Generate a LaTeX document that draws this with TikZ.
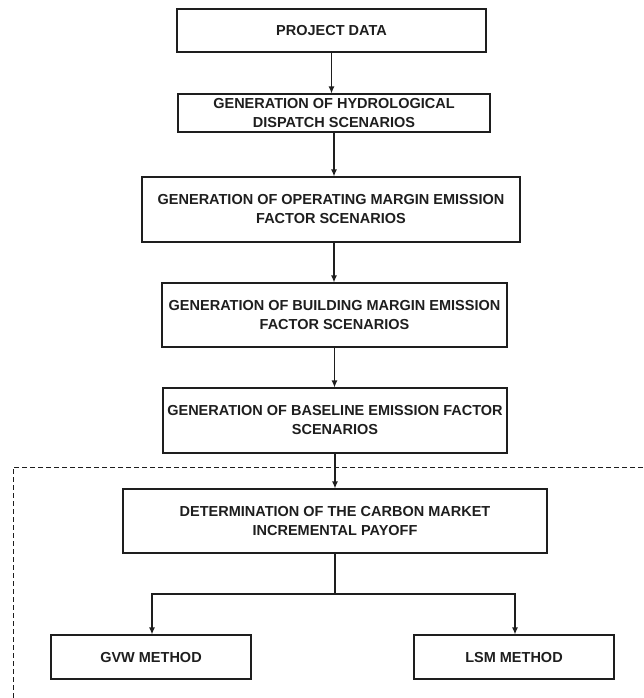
\documentclass[tikz,border=0pt]{standalone}
\usepackage{fontspec}
\setmainfont{Liberation Sans}
\usepackage{xcolor}
\usetikzlibrary{arrows.meta}
\usetikzlibrary{math}
\definecolor{linegray}{RGB}{30,30,30}

\begin{document}
\begin{tikzpicture}[x=1pt,y=-1pt,
  blk/.style={draw=linegray, line width=1.1pt, align=center, inner sep=0pt,
    font=\fontsize{14.5}{19}\selectfont\bfseries, text=linegray},
  conn/.style={draw=linegray, line width=1.3pt},
  tip/.style={-{Latex[length=7pt,width=6pt]}},
  frame/.style={draw=linegray, line width=0.9pt, dash pattern=on 5pt off 3pt}]
\tikzmath{
\xc=334;
\hb=64;
}
\useasboundingbox (0,0) rectangle (643,698);

\node[blk, minimum width=309, minimum height=43] (data) at (331.5,30.5) {PROJECT DATA};
\node[blk, minimum width=312, minimum height=38] (hydro) at (\xc,113) {GENERATION OF HYDROLOGICAL\\DISPATCH SCENARIOS};
\node[blk, minimum width=378, minimum height=\hb+1] (opm) at (331,209.5) {GENERATION OF OPERATING MARGIN EMISSION\\FACTOR SCENARIOS};
\node[blk, minimum width=345, minimum height=\hb] (bm) at (334.5,315) {GENERATION OF BUILDING MARGIN EMISSION\\FACTOR SCENARIOS};
\node[blk, minimum width=344, minimum height=\hb+1] (base) at (335,420.5) {GENERATION OF BASELINE EMISSION FACTOR\\SCENARIOS};
\node[blk, minimum width=424, minimum height=\hb] (payoff) at (335,521) {DETERMINATION OF THE CARBON MARKET\\INCREMENTAL PAYOFF};
\node[blk, minimum width=200, minimum height=44] (gvw) at (151,657) {GVW METHOD};
\node[blk, minimum width=200, minimum height=44] (lsm) at (514,657) {LSM METHOD};

% dashed frame, cut off at the right and bottom
\coordinate (ftr) at (643,467);
\coordinate (ftl) at (13,467);
\coordinate (fbl) at (13,698);
\draw[frame] (ftr) -- (ftl) -- (fbl);

\draw[conn,tip] (data.south) -- (data.south |- hydro.north);
\draw[conn,tip] (hydro.south) -- (hydro.south |- opm.north);
\draw[conn,tip] (opm.south) ++(3,0) coordinate (o) -- (o |- bm.north);
\draw[conn,tip] (bm.south) -- (bm.south |- base.north);
\draw[conn,tip] (base.south) -- (base.south |- payoff.north);

\coordinate (split) at (335,594);
\draw[conn] (payoff.south) -- (split);
\draw[conn,tip] (split) -| ([xshift=1pt]gvw.north);
\draw[conn,tip] (split) -| ([xshift=1pt]lsm.north);
\end{tikzpicture}
\end{document}
